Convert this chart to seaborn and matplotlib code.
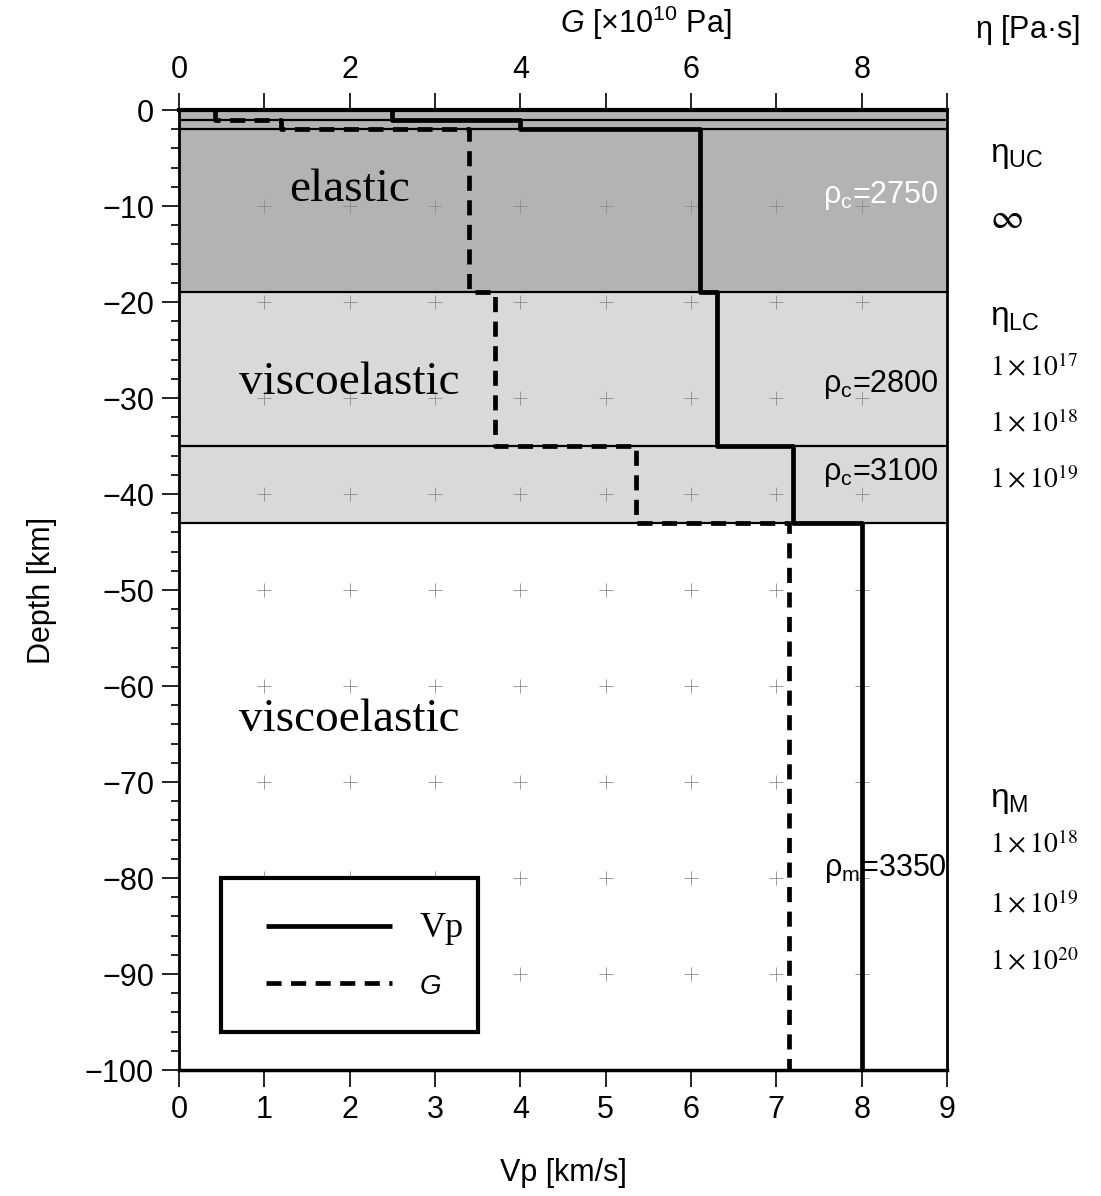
import numpy as np
import pandas as pd
import matplotlib
matplotlib.use("Agg")
import matplotlib.pyplot as plt
from matplotlib.patches import Rectangle
import seaborn as sns

# ---------------- data ----------------
layer_top = [0, -1, -2, -19, -35, -43]
layer_bottom = [-1, -2, -19, -35, -43, -100]
vp_kms = [2.5, 4.0, 6.1, 6.3, 7.2, 8.0]
g_1e10pa = [0.42, 1.2, 3.4, 3.7, 5.35, 7.15]
layer_shade = ["#b3b3b3", "#b3b3b3", "#b3b3b3", "#d9d9d9", "#d9d9d9", "#ffffff"]
boundaries = [-1, -2, -19, -35, -43]

rheology_labels = ["elastic", "viscoelastic", "viscoelastic"]
rheology_pos = [(2.0, -8.3), (2.0, -28.4), (2.0, -63.5)]

density_labels = [r"$\mathrm{\rho}_\mathrm{c}$=2750", r"$\mathrm{\rho}_\mathrm{c}$=2800",
                  r"$\mathrm{\rho}_\mathrm{c}$=3100", r"$\mathrm{\rho}_\mathrm{m}$=3350"]
density_pos = [(8.9, -8.9), (8.9, -28.6), (8.9, -37.8), (9.0, -79.0)]
density_color = ["white", "black", "black", "black"]

eta_headers = [r"$\mathrm{\eta}_\mathrm{UC}$", r"$\mathrm{\eta}_\mathrm{LC}$", r"$\mathrm{\eta}_\mathrm{M}$"]
eta_header_depth = [-4.7, -21.7, -71.9]
eta_values = [r"$\infty$", r"$1\times10^{17}$", r"$1\times10^{18}$", r"$1\times10^{19}$",
              r"$1\times10^{18}$", r"$1\times10^{19}$", r"$1\times10^{20}$"]
eta_value_depth = [-11.3, -26.9, -32.7, -38.6, -76.6, -82.8, -88.8]

# step profiles built from layer tables
def step_frame(values):
    xs, ys = [], []
    for v, t, b in zip(values, layer_top, layer_bottom):
        xs += [v, v]
        ys += [t, b]
    return pd.DataFrame({"x": xs, "depth": ys})

vp_df = step_frame(vp_kms)
g_df = step_frame(g_1e10pa)

# ---------------- style ----------------
sns.set_theme(style="ticks")
plt.rcParams["font.family"] = ["Liberation Sans", "DejaVu Sans"]
plt.rcParams["mathtext.fontset"] = "custom"
plt.rcParams["mathtext.rm"] = "Liberation Sans"
plt.rcParams["mathtext.it"] = "Liberation Sans:italic"
plt.rcParams["mathtext.bf"] = "Liberation Sans:bold"
plt.rcParams["axes.unicode_minus"] = True
for k in ["text.color", "axes.labelcolor", "xtick.color", "ytick.color", "xtick.labelcolor", "ytick.labelcolor"]:
    plt.rcParams[k] = "black"

FS = 22
LW = 3.4

fig = plt.figure(figsize=(11.01, 11.96), dpi=100)
ax = fig.add_axes([179 / 1101, 1 - 1070 / 1196, 768 / 1101, 960 / 1196])
ax.set_xlim(0, 9)
ax.set_ylim(-100, 0)

# layer shading and boundaries
for t, b, c in zip(layer_top, layer_bottom, layer_shade):
    ax.axhspan(b, t, color=c, lw=0, zorder=0)
for y in boundaries:
    ax.axhline(y, color="black", lw=1.6, zorder=1)

# GMT-style grid crosses at tick intersections
gx, gy = np.meshgrid(np.arange(1, 9), np.arange(-90, 0, 10))
ax.scatter(gx.ravel(), gy.ravel(), marker="+", s=90, c="#8c8c8c", linewidths=0.6, zorder=1)

# Vp profile
sns.lineplot(data=vp_df, x="x", y="depth", sort=False, estimator=None,
             color="black", linewidth=LW, ax=ax, zorder=3)
vp_line = ax.lines[-1]
vp_line.set_linewidth(LW)
vp_line.set_solid_capstyle("butt")

ax.set_xticks(np.arange(0, 10))
ax.set_yticks(np.arange(-100, 1, 10))
ax.set_yticks(np.arange(-100, 1, 2), minor=True)
ax.tick_params(axis="both", which="major", direction="out", length=12, width=1.2,
               labelsize=FS, color="black", pad=6)
ax.tick_params(axis="y", which="minor", direction="out", length=5.5, width=1.2, color="black")
ax.tick_params(axis="x", which="minor", length=0)
ax.set_xlabel("Vp [km/s]", fontsize=FS, labelpad=24)
ax.set_ylabel("Depth [km]", fontsize=FS, labelpad=20)
for s in ax.spines.values():
    s.set_linewidth(2.0)
    s.set_color("black")
ax.spines["top"].set_linewidth(3.0)
ax.spines["bottom"].set_linewidth(2.5)

# G profile on the top axis
ax2 = ax.twiny()
ax2.set_xlim(0, 9)
sns.lineplot(data=g_df, x="x", y="depth", sort=False, estimator=None,
             color="black", linewidth=LW, ax=ax2, zorder=3)
g_line = ax2.lines[-1]
g_line.set_linewidth(LW)
g_line.set_linestyle((0, (3.2, 2.0)))
ax2.set_ylim(-100, 0)
ax2.set_xticks(np.arange(0, 10))
ax2.set_xticklabels([str(i) if i % 2 == 0 and i < 9 else "" for i in range(10)])
ax2.tick_params(axis="x", direction="out", length=12, width=1.2, labelsize=FS, pad=6, color="black")
ax2.set_xlabel(r"$G$ [$\times10^{10}$ Pa]", fontsize=FS)
ax2.xaxis.set_label_coords(0.608, 1.08)
ax2.set_ylabel("")
for s in ax2.spines.values():
    s.set_visible(False)

# annotations
for lab, (x, y) in zip(rheology_labels, rheology_pos):
    ax.text(x, y, lab, fontsize=34, family="Liberation Serif", ha="center", va="center", zorder=4)
for lab, (x, y), c in zip(density_labels, density_pos, density_color):
    ax.text(x, y, lab, fontsize=FS, ha="right", va="center", color=c, zorder=4)

fig.text(975 / 1101, 1 - 30 / 1196, r"$\mathrm{\eta}$ [Pa·s]", fontsize=FS, ha="left", va="center")

xt = 9.5
for lab, y in zip(eta_headers, eta_header_depth):
    ax.text(xt, y, lab, fontsize=24, ha="left", va="center", clip_on=False)
for lab, y in zip(eta_values, eta_value_depth):
    ax.text(xt, y, lab, fontsize=20 if "infty" not in lab else 26, ha="left", va="center",
            clip_on=False, math_fontfamily="stix")

# legend: box drawn as a rectangle, entries centred in it
box = Rectangle((0.055, 0.04), 0.334, 0.16, transform=ax.transAxes, facecolor="white",
                edgecolor="black", lw=3.0, zorder=8)
ax2.add_patch(box)
leg = ax2.legend([vp_line, g_line], ["Vp", "G"], loc="center",
                 bbox_to_anchor=(0.242, 0.119), borderaxespad=0, borderpad=0, frameon=False,
                 fontsize=22, handlelength=4.1, handletextpad=0.9, labelspacing=0.9)
leg.set_zorder(10)
t_vp, t_g = leg.get_texts()
t_vp.set_fontfamily("Liberation Serif")
t_vp.set_fontsize(26)
t_g.set_fontstyle("italic")
t_g.set_fontsize(20)

fig.savefig("out.png", dpi=100)
